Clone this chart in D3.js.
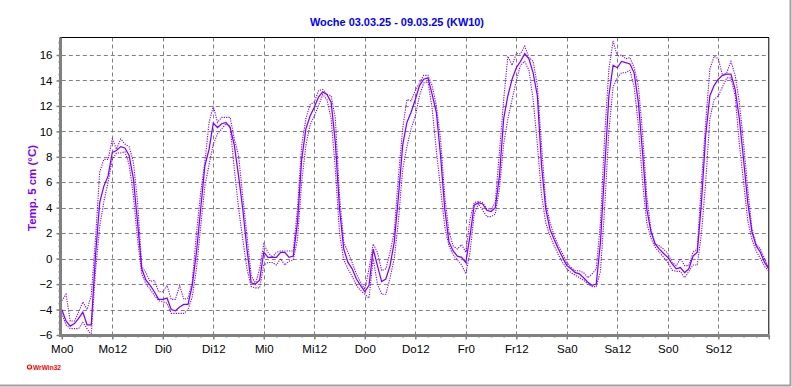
<!DOCTYPE html>
<html><head><meta charset="utf-8">
<script src="https://cdn.jsdelivr.net/npm/d3@7"></script>
<style>
html,body{margin:0;padding:0;background:#fff;}
svg{display:block;font-family:"Liberation Sans",Arial,sans-serif;}
</style></head>
<body><svg id="c" width="792" height="387"></svg>
<script>
const title = "Woche 03.03.25 - 09.03.25 (KW10)";
const yLabel = "Temp. 5 cm (°C)";
const xTickHours = [0,12,24,36,48,60,72,84,96,108,120,132,144,156];
const xTickLabels = ["Mo0","Mo12","Di0","Di12","Mi0","Mi12","Do0","Do12","Fr0","Fr12","Sa0","Sa12","So0","So12"];
const yTicks = [-6,-4,-2,0,2,4,6,8,10,12,14,16];

// hourly values, hour 0..168
const tempMean = [
-4.0,-4.9,-5.3,-5.1,-4.7,-4.2,-5.2,-5.2,0.2,4.4,5.7,6.5,8.35,8.5,8.8,8.7,8.1,6.3,2.85,-0.8,
-1.7,-2.1,-2.6,-3.2,-3.2,-3.1,-4.0,-4.1,-3.8,-3.6,-3.6,-2.1,0.5,3.9,7.3,8.6,10.65,10.3,10.6,10.7,
10.3,8.9,6.5,3.9,0.75,-1.9,-2.0,-1.7,0.5,0.1,0.1,0.1,0.5,0.5,0.1,0.2,2.85,7.8,10.2,11.2,
11.9,12.7,13.1,12.9,12.3,9.1,3.9,0.75,-0.3,-0.8,-1.6,-2.1,-2.6,-2.1,0.75,-0.55,-1.8,-1.6,-0.55,1.3,
4.9,8.9,10.7,11.5,12.5,13.6,14.1,14.2,12.9,11.5,8.1,3.9,1.3,0.6,0.2,0.1,-0.3,1.8,4.2,4.4,
4.3,3.8,3.7,4.0,6.5,11.0,12.8,14.1,15.0,15.5,16.1,15.7,14.6,12.8,7.3,3.9,2.3,1.5,0.75,0.1,
-0.55,-0.8,-1.1,-1.2,-1.5,-1.85,-2.1,-2.0,1.3,7.0,12.8,15.2,15.0,15.5,15.4,15.3,14.6,12.3,8.35,3.9,
2.1,1.15,0.75,0.4,0.1,-0.4,-0.8,-0.7,-1.1,-0.8,0.2,0.5,4.4,9.7,12.8,13.6,14.1,14.4,14.5,14.5,
13.3,11.0,7.8,4.4,2.1,1.0,0.5,-0.3,-0.8];
const tempMax = [
-3.3,-2.8,-4.9,-4.9,-4.2,-3.4,-4.0,-2.9,1.5,6.8,7.8,7.8,9.4,8.6,9.4,9.0,8.8,7.6,4.5,-0.6,
-1.1,-1.8,-1.7,-2.6,-2.6,-2.1,-3.2,-3.2,-2.1,-3.2,-3.1,-1.8,2.0,5.2,7.6,10.7,12.0,10.7,11.1,11.1,
11.1,9.4,8.1,4.9,1.8,-1.3,-2.0,-0.8,1.15,0.5,0.1,0.5,0.6,0.6,0.6,0.6,3.9,8.9,11.0,12.1,
12.3,13.2,13.3,12.9,12.8,11.0,4.9,1.3,0.5,-0.3,-1.2,-1.85,-2.4,-0.8,1.15,0.5,-0.95,-0.8,0.5,2.1,
6.5,10.2,12.5,12.4,13.2,13.8,14.4,14.4,13.6,12.0,9.4,4.9,2.1,1.0,0.75,1.1,0.5,3.1,4.4,4.5,
4.4,3.9,3.9,4.4,8.4,12.5,15.9,15.2,16.1,16.1,16.7,15.8,15.5,13.6,8.9,4.4,2.85,1.8,1.0,0.4,
-0.3,-0.7,-0.95,-0.95,-1.1,-1.5,-1.2,-0.8,2.85,9.7,14.9,17.1,15.9,16.0,15.7,15.8,15.0,13.6,9.9,4.9,
2.3,1.15,1.0,0.75,0.4,-0.3,-0.55,0.0,-0.55,-0.55,0.5,0.75,6.0,10.7,14.9,15.9,15.7,14.4,14.6,15.5,
14.4,12.3,9.1,5.5,2.3,1.15,0.75,0.0,-0.8];
const tempMin = [
-4.3,-5.2,-5.5,-5.5,-5.5,-5.0,-5.5,-6.0,-1.0,2.5,4.5,6.0,7.8,8.3,8.3,8.4,7.4,5.0,1.5,-1.2,
-2.0,-2.4,-2.9,-3.3,-3.4,-3.5,-4.3,-4.3,-4.3,-4.3,-4.0,-3.0,-0.8,2.5,5.7,7.4,9.0,9.8,10.2,10.6,
10.4,7.0,4.0,1.5,-0.8,-2.2,-2.3,-2.3,-0.5,-0.3,-0.3,-0.5,0.0,-0.5,-0.2,-0.1,1.5,6.0,8.9,10.5,
11.2,12.0,12.9,12.5,11.0,7.0,2.0,-0.1,-0.8,-1.4,-2.1,-2.5,-2.8,-3.1,0.0,-2.0,-2.8,-2.8,-1.5,0.0,
3.0,7.0,8.8,10.2,11.2,12.8,13.8,13.9,11.8,8.5,5.5,2.5,1.0,0.3,-0.1,-0.5,-1.2,0.5,3.5,4.3,
3.8,3.3,3.3,3.5,5.5,9.0,11.0,12.5,14.0,15.2,15.5,14.8,12.5,9.0,5.0,2.8,1.8,1.0,0.3,-0.3,
-0.8,-1.1,-1.3,-1.5,-1.7,-2.0,-2.2,-2.2,-1.0,4.0,10.0,13.5,14.2,14.6,14.6,14.8,13.5,10.5,6.0,2.8,
1.6,0.9,0.5,0.1,-0.3,-0.9,-1.0,-1.0,-1.5,-1.0,-0.5,-0.5,2.0,6.0,11.0,12.5,12.8,13.5,14.2,14.2,
12.8,9.0,6.0,3.0,1.5,0.6,0.0,-0.6,-1.0];

const svg = d3.select("#c");
const x = d3.scaleLinear().domain([0,168]).range([61.8,768.8]);
const y = d3.scaleLinear().domain([-6,16]).range([335,55]);
const yTop = y(17.375);
const lineCol = "#8000ff";

// outer frame (right/bottom gray)
svg.append("line").attr("x1",790.5).attr("x2",790.5).attr("y1",0).attr("y2",386).attr("stroke","#a0a0a0").attr("stroke-width",2);
svg.append("line").attr("x1",0).attr("x2",791).attr("y1",385.5).attr("y2",385.5).attr("stroke","#a0a0a0").attr("stroke-width",2);

// grid
const g = svg.append("g");
g.selectAll(".hg").data(yTicks.filter(v=>v>-6)).join("line")
  .attr("x1",x(0)).attr("x2",x(168)).attr("y1",d=>Math.round(y(d))+0.5).attr("y2",d=>Math.round(y(d))+0.5)
  .attr("stroke","#808080").attr("stroke-dasharray","4,3");
g.selectAll(".vg").data(xTickHours.filter(h=>h>0)).join("line")
  .attr("x1",d=>Math.round(x(d))+0.5).attr("x2",d=>Math.round(x(d))+0.5).attr("y1",yTop).attr("y2",y(-6))
  .attr("stroke","#808080").attr("stroke-dasharray","4,3");

// frame top/right
svg.append("line").attr("x1",60).attr("x2",769).attr("y1",yTop).attr("y2",yTop).attr("stroke","#000");
svg.append("line").attr("x1",768.8).attr("x2",768.8).attr("y1",yTop).attr("y2",336).attr("stroke","#000");

// lines
const hours = d3.range(0,169);
const mk = arr => d3.line().x((d,i)=>x(hours[i])).y(d=>y(d)).curve(d3.curveLinear)(arr);
svg.append("path").attr("d",mk(tempMax)).attr("fill","none").attr("stroke",lineCol).attr("stroke-width",1.1).attr("stroke-dasharray","1.2,1.2");
svg.append("path").attr("d",mk(tempMin)).attr("fill","none").attr("stroke",lineCol).attr("stroke-width",1.1).attr("stroke-dasharray","1.2,1.2");
svg.append("path").attr("d",mk(tempMean)).attr("fill","none").attr("stroke",lineCol).attr("stroke-width",1.25);

// axes
const axCol = "#808080";
const yAx = svg.append("g").attr("transform","translate(60.5,0)")
  .call(d3.axisLeft(y).tickValues(yTicks).tickSize(4).tickFormat(d3.format("d")));
const yMin = svg.append("g").attr("transform","translate(60.5,0)")
  .call(d3.axisLeft(y).tickValues(d3.range(-6,17.5,0.5)).tickSize(2).tickFormat(""));
yMin.select(".domain").remove();
const xAx = svg.append("g").attr("transform","translate(0,335.5)")
  .call(d3.axisBottom(x).tickValues(xTickHours.concat([168])).tickSize(4).tickFormat((d,i)=>xTickLabels[i]||""));
const xMin = svg.append("g").attr("transform","translate(0,335.5)")
  .call(d3.axisBottom(x).tickValues(d3.range(0,169,3)).tickSize(2).tickFormat(""));
xMin.select(".domain").remove();
[yAx,yMin,xAx,xMin].forEach(a=>{
  a.selectAll(".tick line").attr("stroke",axCol).attr("stroke-width",1.5);
  a.selectAll("text").attr("fill","#000").style("font-size","11.5px").style("font-family","'Liberation Sans',Arial,sans-serif");
});
yAx.select(".domain").attr("stroke",axCol).attr("stroke-width",3).attr("d",`M0,${yTop}V336`);
xAx.select(".domain").attr("stroke",axCol).attr("stroke-width",3).attr("d",`M59,0H769`);
yAx.selectAll("text").attr("x",-8);
xAx.selectAll("text").attr("y",9);

// title
svg.append("text").attr("x",397).attr("y",26).attr("text-anchor","middle")
  .attr("fill","#0000ff").style("font-weight","bold").style("font-size","11px")
  .attr("textLength",174).attr("lengthAdjust","spacingAndGlyphs").text(title);
// y label
svg.append("text").attr("transform","translate(36,188) rotate(-90)").attr("text-anchor","middle")
  .attr("fill",lineCol).style("font-weight","bold").style("font-size","11.5px")
  .attr("textLength",86).attr("lengthAdjust","spacingAndGlyphs").text(yLabel);
// logo
svg.append("circle").attr("cx",29.5).attr("cy",367).attr("r",2).attr("fill","none").attr("stroke","#ff0000").attr("stroke-width",1.2);
svg.append("text").attr("x",33).attr("y",370).attr("fill","#ff0000").style("font-size","7px").style("font-weight","bold")
  .attr("textLength",28).attr("lengthAdjust","spacingAndGlyphs").text("WrWin32");
</script></body></html>
